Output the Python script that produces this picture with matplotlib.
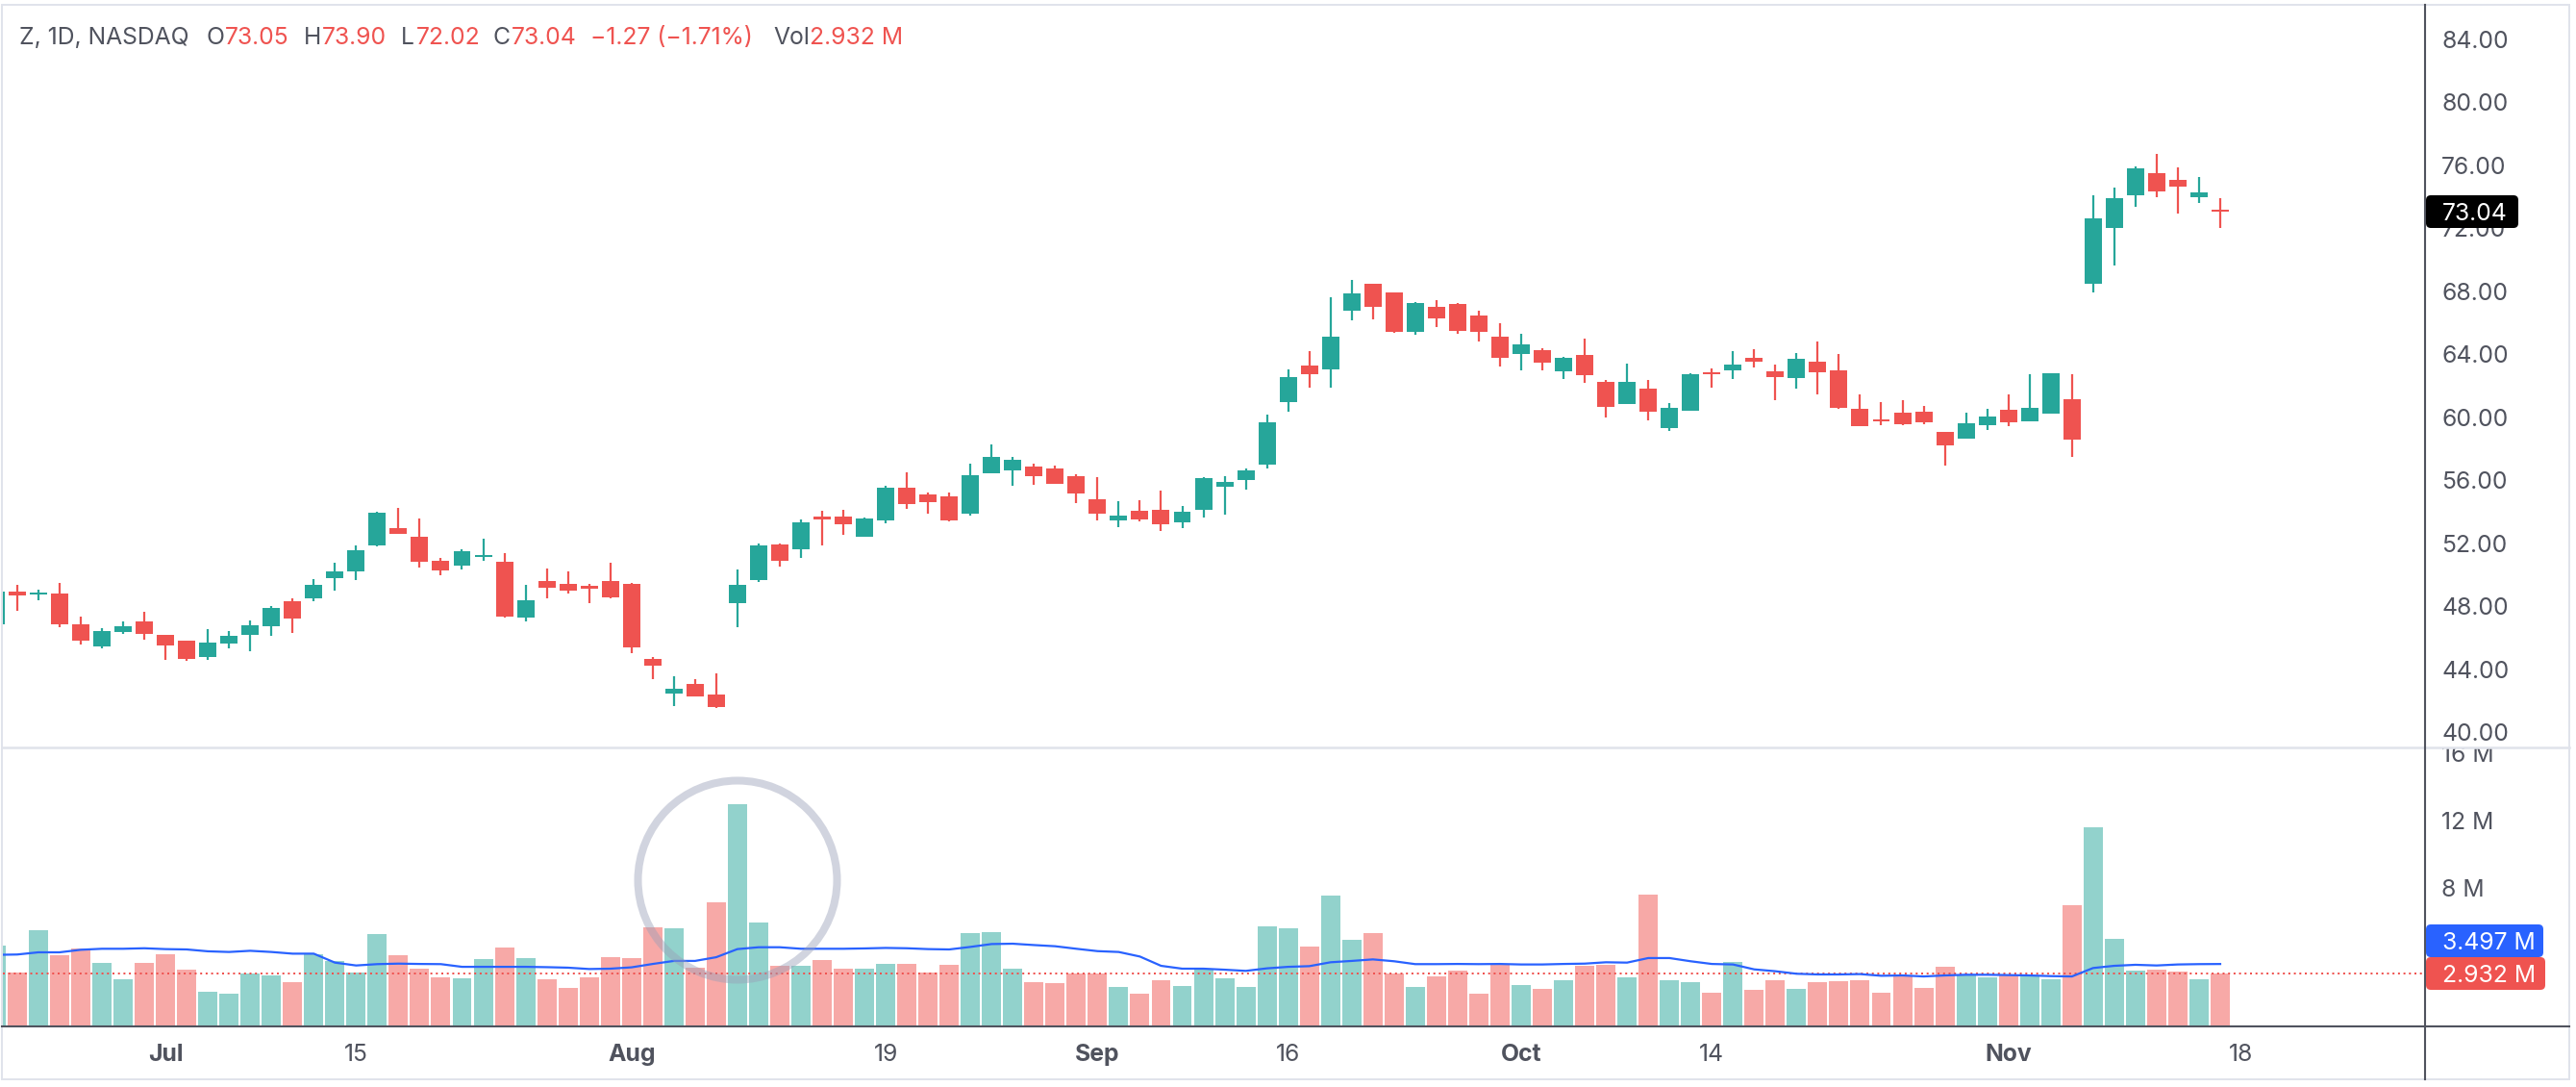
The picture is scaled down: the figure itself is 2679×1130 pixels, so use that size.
import matplotlib
matplotlib.use("Agg")
import matplotlib.pyplot as plt
import numpy as np
from matplotlib.lines import Line2D
from matplotlib.patches import Circle, FancyBboxPatch
from matplotlib.transforms import Bbox, IdentityTransform

plt.rcParams["font.family"] = ["Inter", "DejaVu Sans"]

opens = [
    46.86, 48.94, 48.75, 48.82, 46.86, 45.46, 46.37, 47.04, 46.19, 45.82,
    44.78, 45.64, 46.19, 46.74, 48.33, 48.51, 49.79, 50.22, 51.87, 52.97,
    52.42, 50.89, 50.59, 51.14, 50.83, 47.29, 49.61, 49.43, 49.31, 49.61,
    49.43, 44.66, 42.46, 43.07, 42.40, 48.20, 49.67, 51.93, 51.63, 53.70,
    53.70, 52.42, 53.46, 55.53, 55.11, 54.99, 53.89, 56.45, 56.64, 56.88,
    56.76, 56.27, 54.80, 53.46, 54.07, 54.13, 53.34, 54.13, 55.60, 56.03,
    57.00, 60.97, 63.30, 63.05, 66.78, 68.49, 67.94, 65.43, 67.02, 67.20,
    66.47, 65.13, 64.03, 64.27, 62.93, 63.97, 62.26, 60.85, 61.83, 59.33,
    60.42, 62.87, 62.99, 63.79, 62.93, 62.50, 63.54, 62.99, 60.55, 59.88,
    60.30, 60.37, 59.08, 58.65, 59.51, 60.49, 59.75, 60.24, 61.16, 68.49,
    72.03, 74.11, 75.51, 75.08, 73.99, 73.05,
]
highs = [
    48.94, 49.37, 49.06, 49.49, 47.35, 46.62, 47.04, 47.66, 46.19, 45.82,
    46.56, 46.43, 47.11, 48.02, 48.51, 49.73, 50.77, 51.87, 54.01, 54.25,
    53.58, 51.08, 51.63, 52.30, 51.38, 49.37, 50.40, 50.22, 49.43, 50.77,
    49.49, 44.78, 43.56, 43.38, 43.75, 50.34, 51.99, 51.99, 53.52, 54.07,
    54.13, 53.64, 55.66, 56.52, 55.23, 55.23, 57.06, 58.29, 57.49, 57.06,
    56.94, 56.39, 56.21, 54.68, 54.74, 55.35, 54.38, 56.21, 56.27, 56.76,
    60.18, 63.05, 64.21, 67.63, 68.73, 68.49, 67.94, 67.33, 67.45, 67.27,
    66.78, 65.98, 65.31, 64.39, 63.84, 65.00, 62.38, 63.42, 62.38, 60.91,
    62.81, 63.11, 64.21, 64.34, 63.36, 64.09, 64.82, 64.03, 61.46, 60.97,
    61.10, 60.73, 59.08, 60.30, 60.55, 61.46, 62.75, 62.81, 62.75, 74.11,
    74.60, 75.94, 76.73, 75.88, 75.27, 73.90,
]
lows = [
    46.86, 47.72, 48.39, 46.68, 45.58, 45.33, 46.25, 45.88, 44.60, 44.54,
    44.60, 45.33, 45.15, 46.13, 46.31, 48.33, 49.00, 49.67, 51.81, 52.60,
    50.46, 49.98, 50.34, 50.89, 47.29, 47.04, 48.51, 48.82, 48.20, 48.51,
    45.03, 43.38, 41.67, 42.28, 41.55, 46.68, 49.55, 50.53, 51.08, 51.87,
    52.54, 52.42, 53.28, 54.19, 53.89, 53.40, 53.77, 56.45, 55.66, 55.72,
    55.78, 54.56, 53.46, 53.03, 53.40, 52.79, 52.97, 53.64, 53.83, 55.41,
    56.76, 60.36, 61.89, 61.89, 66.17, 66.23, 65.37, 65.25, 65.74, 65.31,
    64.82, 63.23, 62.99, 62.99, 62.44, 62.20, 60.00, 60.85, 59.81, 59.14,
    60.42, 61.89, 62.44, 63.17, 61.10, 61.83, 61.46, 60.55, 59.45, 59.51,
    59.51, 59.57, 56.94, 58.65, 59.20, 59.45, 59.75, 60.24, 57.49, 67.94,
    69.65, 73.37, 73.99, 72.95, 73.62, 72.02,
]
closes = [
    48.94, 48.69, 48.88, 46.86, 45.82, 46.43, 46.74, 46.25, 45.52, 44.66,
    45.70, 46.13, 46.80, 47.90, 47.23, 49.37, 50.22, 51.56, 53.95, 52.60,
    50.83, 50.28, 51.50, 51.26, 47.35, 48.39, 49.18, 49.00, 49.12, 48.57,
    45.39, 44.23, 42.77, 42.28, 41.61, 49.37, 51.87, 50.89, 53.33, 53.52,
    53.21, 53.58, 55.53, 54.50, 54.62, 53.46, 56.33, 57.49, 57.31, 56.27,
    55.78, 55.17, 53.89, 53.77, 53.52, 53.22, 54.01, 56.15, 55.90, 56.64,
    59.69, 62.56, 62.75, 65.13, 67.88, 67.02, 65.43, 67.27, 66.29, 65.49,
    65.43, 63.78, 64.64, 63.48, 63.78, 62.68, 60.67, 62.26, 60.36, 60.61,
    62.75, 62.75, 63.36, 63.54, 62.56, 63.72, 62.87, 60.61, 59.45, 59.75,
    59.57, 59.69, 58.23, 59.63, 60.06, 59.69, 60.61, 62.81, 58.59, 72.64,
    73.92, 75.82, 74.35, 74.66, 74.31, 73.04,
]
volumes = [
    4.59, 2.99, 5.50, 4.02, 4.42, 3.56, 2.59, 3.56, 4.07, 3.16,
    1.85, 1.74, 2.93, 2.82, 2.42, 4.07, 3.68, 2.99, 5.27, 4.02,
    3.22, 2.71, 2.65, 3.79, 4.47, 3.85, 2.59, 2.08, 2.71, 3.90,
    3.85, 5.67, 5.61, 3.28, 7.15, 12.96, 5.95, 3.39, 3.39, 3.73,
    3.22, 3.22, 3.50, 3.50, 2.99, 3.45, 5.33, 5.38, 3.22, 2.42,
    2.36, 2.93, 2.93, 2.14, 1.74, 2.54, 2.20, 3.16, 2.65, 2.14,
    5.73, 5.61, 4.53, 7.55, 4.93, 5.33, 2.93, 2.14, 2.76, 3.11,
    1.74, 3.45, 2.25, 2.02, 2.54, 3.39, 3.45, 2.71, 7.61, 2.54,
    2.42, 1.80, 3.62, 1.97, 2.54, 2.02, 2.42, 2.48, 2.54, 1.80,
    2.76, 2.08, 3.33, 2.88, 2.71, 2.82, 2.76, 2.59, 6.98, 11.60,
    4.99, 3.11, 3.16, 3.05, 2.59, 2.932,
]
volume_ma = [
    4.04, 4.06, 4.19, 4.19, 4.34, 4.40, 4.40, 4.43, 4.38, 4.36,
    4.25, 4.21, 4.28, 4.21, 4.11, 4.11, 3.58, 3.41, 3.49, 3.52,
    3.50, 3.49, 3.33, 3.33, 3.33, 3.33, 3.31, 3.28, 3.20, 3.22,
    3.30, 3.50, 3.68, 3.68, 3.90, 4.38, 4.49, 4.49, 4.40, 4.40,
    4.40, 4.42, 4.45, 4.43, 4.38, 4.36, 4.51, 4.68, 4.70, 4.62,
    4.55, 4.40, 4.26, 4.21, 3.94, 3.39, 3.22, 3.22, 3.16, 3.09,
    3.24, 3.33, 3.37, 3.60, 3.68, 3.77, 3.66, 3.49, 3.49, 3.50,
    3.49, 3.50, 3.47, 3.47, 3.50, 3.52, 3.60, 3.58, 3.85, 3.85,
    3.66, 3.50, 3.47, 3.18, 3.07, 2.92, 2.88, 2.88, 2.90, 2.80,
    2.82, 2.76, 2.82, 2.86, 2.86, 2.84, 2.82, 2.78, 2.76, 3.26,
    3.39, 3.45, 3.41, 3.47, 3.49, 3.497,
]

date_ticks = [8, 17, 30, 42, 52, 61, 72, 81, 95, 106]
date_labels = ["Jul", "15", "Aug", "19", "Sep", "16", "Oct", "14", "Nov", "18"]
month_labels = ["Jul", "Aug", "Sep", "Oct", "Nov"]
price_ticks = list(range(40, 88, 4))
volume_ticks = [8, 12, 16]
last_close = 73.04
last_volume = 2.932
last_ma = 3.497

UP = "#26a69a"
DOWN = "#ef5350"
UP_VOL = "#92d2cc"
DOWN_VOL = "#f7a9a7"
TEXT = "#50535e"
BORDER = "#e0e3eb"
BLUE = "#2962ff"

W, H = 2679, 1130
FS = 17.8
AXIS_X = 2522
FRAME_R = 2672


def fx(x):
    return x / W


def fy(y):
    return 1 - y / H


def axes_px(left, top, right, bottom):
    return [fx(left), fy(bottom), (right - left) / W, (bottom - top) / H]


def fig_line(x0, y0, x1, y1, color, lw):
    fig.add_artist(
        Line2D([fx(x0), fx(x1)], [fy(y0), fy(y1)], color=color, lw=lw, zorder=6)
    )


def price_label(x0, y0, x1, y1, color, text):
    fig.add_artist(
        FancyBboxPatch(
            (x0, H - y1),
            x1 - x0,
            y1 - y0,
            boxstyle="round,pad=0,rounding_size=5",
            fc=color,
            ec="none",
            transform=IdentityTransform(),
            zorder=7,
        )
    )
    fig.text(
        fx(2540), fy((y0 + y1) / 2), text, color="white", fontsize=FS,
        va="center_baseline", ha="left", zorder=8,
    )


fig = plt.figure(figsize=(W / 100, H / 100), dpi=100, facecolor="white")
ax = fig.add_axes(axes_px(3, 5, AXIS_X, 776))
ax_vol = fig.add_axes(axes_px(3, 778, AXIS_X, 1066))

x = np.arange(len(closes))
o = np.array(opens)
c = np.array(closes)
up = c >= o
colors = [UP if u else DOWN for u in up]
vol_colors = [UP_VOL if u else DOWN_VOL for u in up]

# candles
ax.vlines(x, lows, highs, colors=colors, lw=1.6, zorder=2)
ax.bar(
    x,
    np.maximum(np.abs(c - o), 0.13),
    bottom=np.minimum(o, c),
    width=0.816,
    color=colors,
    linewidth=0,
    zorder=3,
)
ax.set_xlim(0.325, 114.67)
ax.set_ylim(39.10, 86.20)
ax.set_yticks(price_ticks)
ax.set_yticklabels([f"{p:.2f}" for p in price_ticks])
ax.set_xticks([])

# volume pane
vol_floor = -0.142
ax_vol.bar(
    x,
    np.array(volumes) - vol_floor,
    bottom=vol_floor,
    width=0.906,
    color=vol_colors,
    linewidth=0,
    zorder=2,
)
ax_vol.axhline(
    last_volume, color=DOWN, lw=1.44, linestyle=(0, (1, 1.85)), zorder=3
)
ax_vol.plot(x, volume_ma, color=BLUE, lw=1.6, zorder=4)
ax_vol.set_xlim(0.325, 114.67)
ax_vol.set_ylim(vol_floor, 16.27)
ax_vol.set_yticks(volume_ticks)
ax_vol.set_yticklabels([f"{v} M" for v in volume_ticks])
ax_vol.set_xticks(date_ticks)
ax_vol.set_xticklabels(date_labels)
for lab in ax_vol.get_xticklabels():
    if lab.get_text() in month_labels:
        lab.set_fontweight("bold")

for a in (ax, ax_vol):
    a.yaxis.tick_right()
    a.tick_params(axis="y", length=0, pad=12.5, labelsize=FS, labelcolor=TEXT)
    a.tick_params(axis="x", length=0, pad=14, labelsize=FS, labelcolor=TEXT)
    for s in a.spines.values():
        s.set_visible(False)

# the top volume tick is cut off by the pane edge
for lab in ax_vol.get_yticklabels():
    lab.set_clip_on(True)
    lab.set_clip_box(Bbox([[AXIS_X, 0], [W, H - 777]]))

# pane frame
fig_line(2, 5, FRAME_R, 5, BORDER, 1.4)
fig_line(2, 5, 2, 1121.5, BORDER, 1.4)
fig_line(FRAME_R, 5, FRAME_R, 1121.5, BORDER, 1.4)
fig_line(2, 1121.5, FRAME_R, 1121.5, BORDER, 1.4)
fig_line(2, 777, FRAME_R, 777, BORDER, 1.8)
fig_line(2, 1067, FRAME_R, 1067, TEXT, 1.5)
fig_line(AXIS_X, 5, AXIS_X, 1121.5, TEXT, 1.5)

# highlighted spike
fig.add_artist(
    Circle(
        (767, H - 915),
        103.5,
        fc="none",
        ec="#9aa0b8",
        alpha=0.45,
        lw=5.8,
        transform=IdentityTransform(),
        zorder=5,
    )
)

# last value labels
price_label(AXIS_X + 1, 203, 2619, 237, "black", f"{last_close:.2f}")
price_label(AXIS_X + 1, 961, 2645, 995, BLUE, f"{last_ma:.3f} M")
price_label(AXIS_X + 1, 995, 2647, 1029, DOWN, f"{last_volume:.3f} M")

# header
header = [
    (20, "Z, 1D, NASDAQ", TEXT),
    (214, "O", TEXT),
    (234, "73.05", DOWN),
    (316, "H", TEXT),
    (335, "73.90", DOWN),
    (417, "L", TEXT),
    (433, "72.02", DOWN),
    (513, "C", TEXT),
    (532, "73.04", DOWN),
    (614, "\u22121.27 (\u22121.71%)", DOWN),
    (804, "Vol", TEXT),
    (842, "2.932 M", DOWN),
]
for hx, txt, col in header:
    fig.text(fx(hx), fy(37), txt, color=col, fontsize=FS, va="center_baseline", ha="left")

fig.savefig("out.png", dpi=100)
